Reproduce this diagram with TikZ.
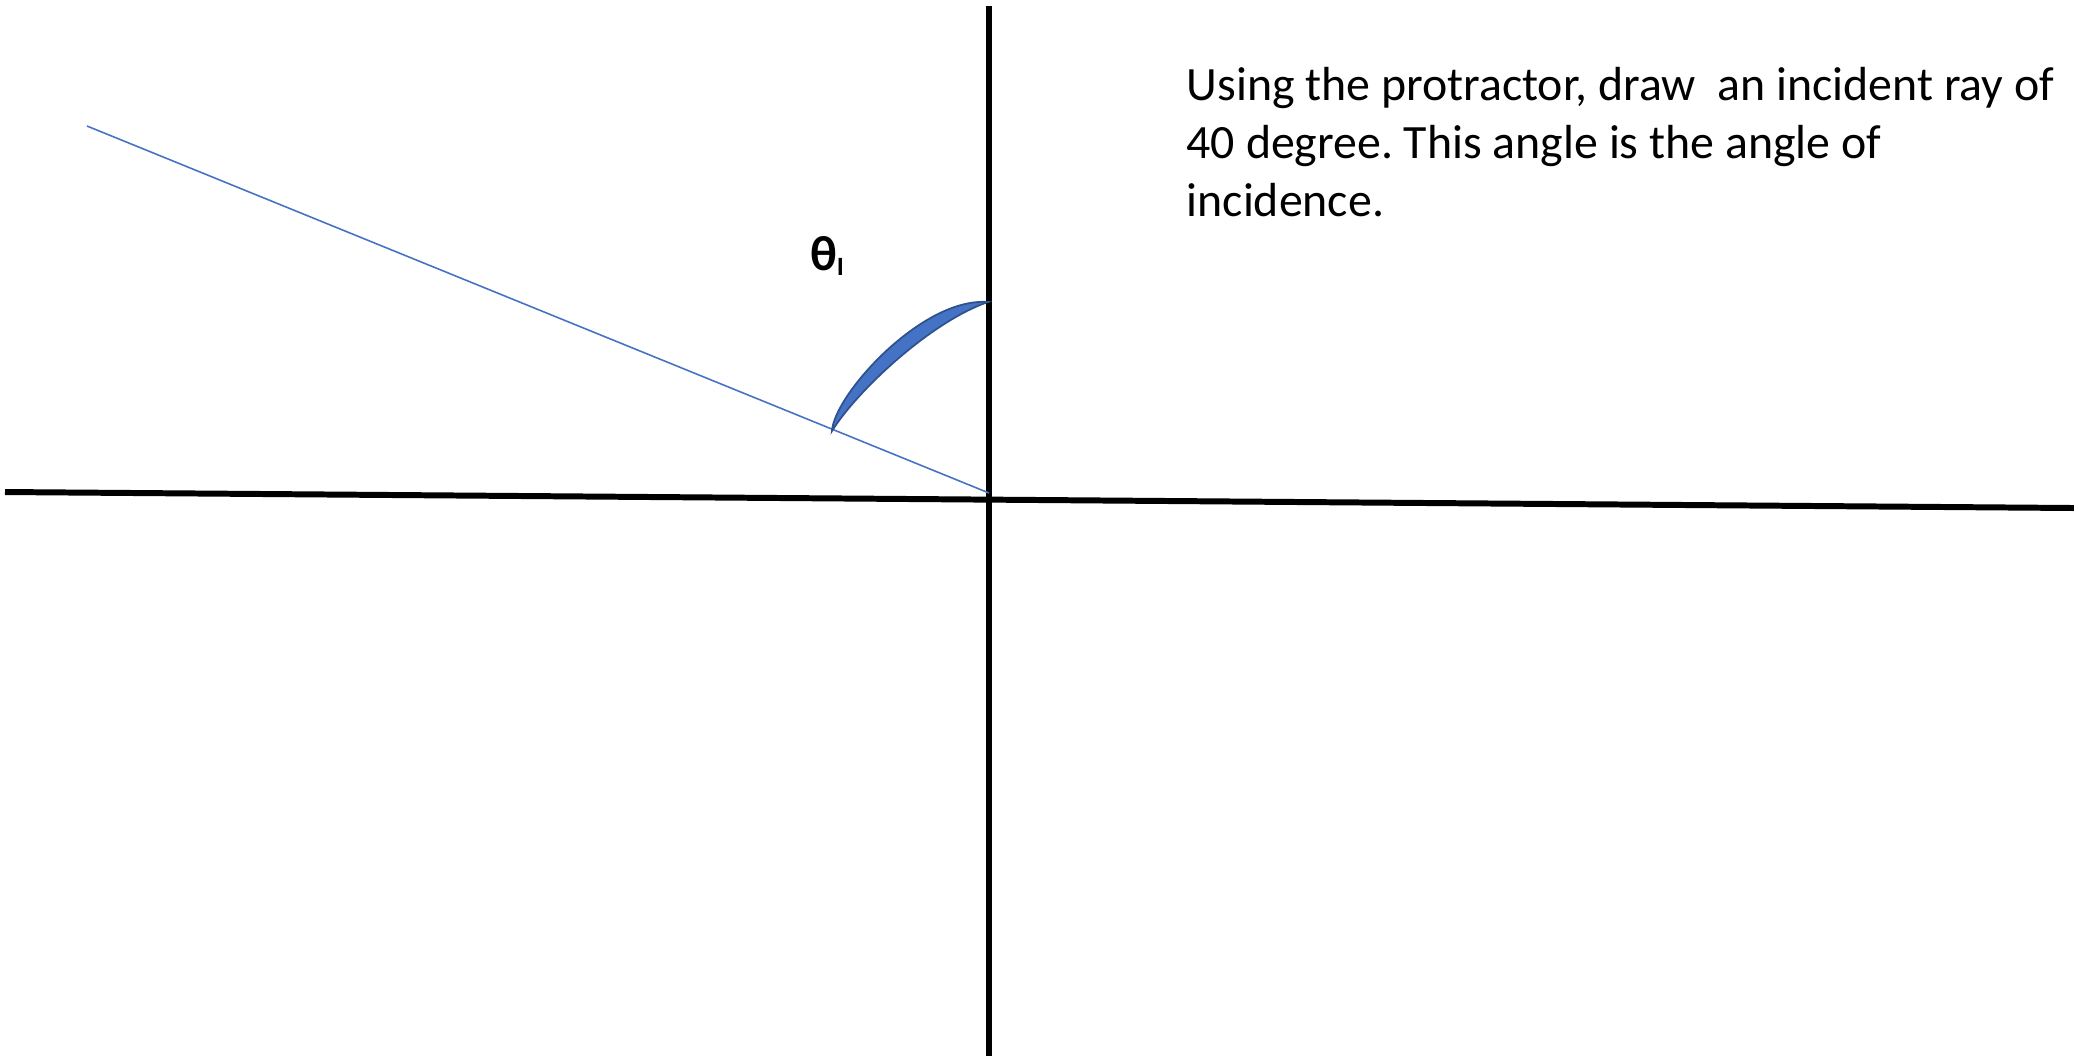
\documentclass[tikz,border=0pt]{standalone}
\usepackage{fontspec}
\setmainfont{Carlito}
\usetikzlibrary{positioning}
\definecolor{raycol}{HTML}{4472C4}
\definecolor{arcedge}{HTML}{2F528F}
\frenchspacing

\begin{document}
\begin{tikzpicture}[
        x=0.01cm, y=-0.01cm,
        axis/.style={line width=1.7pt, black},
        ray/.style={line width=0.45pt, raycol},
        arcfill/.style={fill=raycol, draw=arcedge, line width=0.5pt},
        note/.style={anchor=north west, inner sep=0pt, align=left,
                     font=\fontsize{13.6}{16.5}\selectfont},
    ]
    \useasboundingbox (0,0) rectangle (2074,1059);

    \coordinate (O)     at (989,493);
    \coordinate (top)   at (989,6);
    \coordinate (bot)   at (989,1056);
    \coordinate (left)  at (5,492);
    \coordinate (right) at (2074,508);
    \coordinate (src)   at (87,126);

    \draw[axis] (left) -- (right);
    \draw[axis] (top) -- (bot);
    \draw[ray] (src) -- (O);

    % angle mark
    \filldraw[arcfill] (832,431) .. controls (834,395) and (922,297) .. (988,302)
        .. controls (930,322) and (856,392) .. (832,431) -- cycle;

    \node[font=\bfseries\fontsize{14}{14}\selectfont] (thetaI) at (827,256)
        {θ\raisebox{-1.5pt}{\fontsize{7.5}{7.5}\selectfont I}};

    \node[note] (task) at (1186,67)
        {Using the protractor, draw~ an incident ray of\\40 degree. This angle is the angle of\\incidence.};
\end{tikzpicture}
\end{document}
